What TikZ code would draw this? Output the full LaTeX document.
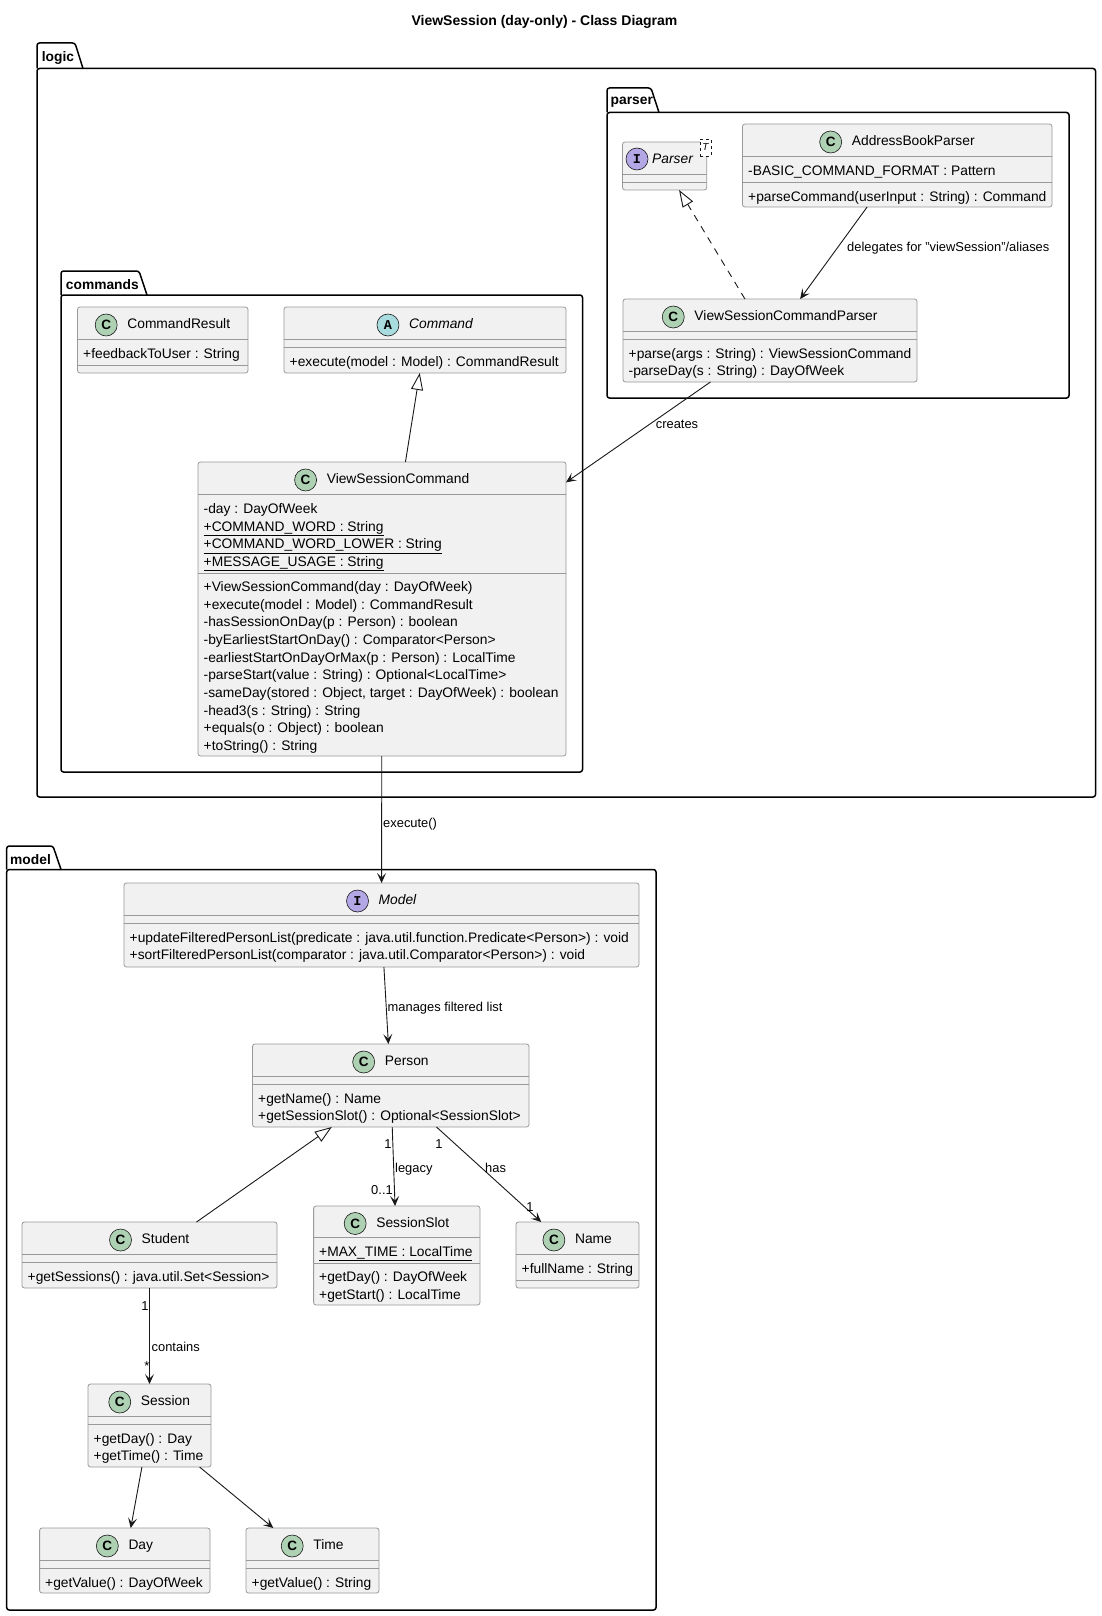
\documentclass[tikz,border=0pt]{standalone}
\usepackage{fontspec}
\setmainfont{Liberation Sans}
\newfontfamily\monofam{Liberation Mono}
\usetikzlibrary{arrows.meta}
\definecolor{boxfill}{HTML}{F1F1F1}
\definecolor{boxline}{HTML}{181818}
\definecolor{boxedge}{HTML}{999999}
\definecolor{cgreen}{HTML}{ADD1B2}
\definecolor{ablue}{HTML}{A9DCDF}
\definecolor{ipurple}{HTML}{B4A7E5}
\tikzset{
  pkg/.style={draw=black, line width=1.5pt},
  pkglabel/.style={anchor=west, inner sep=0pt, yshift=-1.5pt, font=\bfseries\fontsize{13.8}{16}\selectfont},
  classbox/.style={draw=boxedge, fill=boxfill, line width=0.8pt, rounded corners=2.5pt, inner sep=0pt, outer sep=0pt},
  sepline/.style={draw=boxedge, line width=0.8pt},
  titletext/.style={inner sep=0pt, anchor=center, yshift=-2pt, font=\fontsize{13.8}{16}\selectfont, text height=10pt, text depth=3pt},
  icon/.style={circle, draw=boxline, line width=0.6pt, minimum size=22pt, inner sep=0pt, font=\bfseries\fontsize{13.5}{13.5}\selectfont},
  mem/.style={anchor=west, inner sep=0pt, yshift=-2pt, font=\fontsize{13.8}{16}\selectfont, text height=10pt, text depth=3pt},
  lab/.style={inner sep=0pt, yshift=-1.5pt, font=\fontsize{12.9}{15}\selectfont, text height=9.5pt, text depth=3pt},
  assoc/.style={draw=boxline, line width=0.9pt, -{Stealth[length=10pt,width=9pt,inset=4.5pt]}},
  extends/.style={draw=boxline, line width=0.9pt, -{Triangle[open, length=17pt, width=12pt, fill=white]}},
  realizes/.style={extends, dash pattern=on 7pt off 6pt},
}
\newcommand\ubox[5]{\node[classbox, minimum width={#4-#2}, minimum height={#5-#3}] (#1) at ({(#2+#4)/2},{(#3+#5)/2}) {};}
\newcommand\usep[3]{\draw[sepline] (#2,#1) -- (#3,#1);}
\newcommand\uhead[6]{%
  \node[titletext] (#1-t) at ({#2+16},#3) {#6};
  \node[icon, fill=#4] (#1-i) at ([xshift=-21pt]#1-t.west) {#5};}
\begin{document}
\begin{tikzpicture}[x=1pt, y=-1pt]
\useasboundingbox[fill=white] (0,0) rectangle (1101,1616);
% title
\node[inner sep=0pt, font=\bfseries\fontsize{14}{16}\selectfont] (title) at (544.5,21.7) {ViewSession (day-only) - Class Diagram};

% ---------- packages ----------
\draw[pkg, rounded corners=2.5pt] (37,68.5) -- (37,43) -- (75,43) -- (83,68.5);
\draw[pkg, rounded corners=2.5pt] (37,68.5) rectangle (1095.5,797);
\node[pkglabel] (logic-l) at (41.7,56) {logic};

\draw[pkg, rounded corners=2.5pt] (607,112.5) -- (607,88) -- (651,88) -- (659,112.5);
\draw[pkg, rounded corners=2.5pt] (607,112.5) rectangle (1069,398);
\node[pkglabel] (parser-l) at (610.5,100.5) {parser};

\draw[pkg, rounded corners=2.5pt] (61,295) -- (61,271) -- (139,271) -- (147,295);
\draw[pkg, rounded corners=2.5pt] (61,295) rectangle (582.5,772);
\node[pkglabel] (commands-l) at (65.7,283) {commands};

\draw[pkg, rounded corners=2.5pt] (6.7,869.5) -- (6.7,846) -- (53,846) -- (61,869.5);
\draw[pkg, rounded corners=2.5pt] (6.7,869.5) rectangle (656,1610);
\node[pkglabel] (model-l) at (10,858) {model};

% ---------- parser package ----------
\ubox{parseri}{622.5}{142}{706.7}{190}
\usep{174}{622.5}{706.7}\usep{182}{622.5}{706.7}
\node[icon, fill=ipurple] (parseri-i) at (637,159) {\monofam\bfseries I};
\node[mem, font=\itshape\fontsize{13.8}{16}\selectfont] (parseri-t) at (652,158) {Parser};
\node[draw=boxline, dashed, line width=0.5pt, fill=white, minimum width=11pt, minimum height=17pt, inner sep=0pt, font=\itshape\fontsize{10}{10}\selectfont] (tpl) at (705.5,147.5) {T};

\ubox{abp}{742.5}{124}{1052}{207}
\usep{156}{742.5}{1052}\usep{182}{742.5}{1052}
\uhead{abp}{897.25}{140}{cgreen}{C}{AddressBookParser}
\node[mem] (abp-a1) at (748,170) {-BASIC\_COMMAND\_FORMAT : Pattern};
\node[mem] (abp-m1) at (748,196) {+parseCommand(userInput : String) : Command};

\ubox{vscp}{623}{299}{917}{382}
\usep{331}{623}{917}\usep{339}{623}{917}
\uhead{vscp}{770}{315}{cgreen}{C}{ViewSessionCommandParser}
\node[mem] (vscp-m1) at (628.5,353) {+parse(args : String) : ViewSessionCommand};
\node[mem] (vscp-m2) at (628.5,370) {-parseDay(s : String) : DayOfWeek};

% ---------- commands package ----------
\ubox{cres}{77.5}{307}{248}{373}
\usep{339}{77.5}{248}\usep{365}{77.5}{248}
\uhead{cres}{162.75}{323}{cgreen}{C}{CommandResult}
\node[mem] (cres-a1) at (83,353) {+feedbackToUser : String};

\ubox{cmd}{284}{307}{566}{373}
\usep{339}{284}{566}\usep{347}{284}{566}
\uhead{cmd}{425}{323}{ablue}{\monofam\bfseries A}{\itshape Command}
\node[mem] (cmd-m1) at (289.5,361) {+execute(model : Model) : CommandResult};

\ubox{vsc}{198}{462}{566}{756}
\usep{494}{198}{566}\usep{573}{198}{566}
\uhead{vsc}{382}{478}{cgreen}{C}{ViewSessionCommand}
\node[mem] (vsc-a1) at (203.5,508) {-day : DayOfWeek};
\node[mem] (vsc-a2) at (203.5,525.5) {\underline{+COMMAND\_WORD : String}};
\node[mem] (vsc-a3) at (203.5,543) {\underline{+COMMAND\_WORD\_LOWER : String}};
\node[mem] (vsc-a4) at (203.5,560.5) {\underline{+MESSAGE\_USAGE : String}};
\node[mem] (vsc-m1) at (203.5,586) {+ViewSessionCommand(day : DayOfWeek)};
\node[mem] (vsc-m2) at (203.5,603.7) {+execute(model : Model) : CommandResult};
\node[mem] (vsc-m3) at (203.5,621.3) {-hasSessionOnDay(p : Person) : boolean};
\node[mem] (vsc-m4) at (203.5,639) {-byEarliestStartOnDay() : Comparator<Person>};
\node[mem] (vsc-m5) at (203.5,656.7) {-earliestStartOnDayOrMax(p : Person) : LocalTime};
\node[mem] (vsc-m6) at (203.5,674.3) {-parseStart(value : String) : Optional<LocalTime>};
\node[mem] (vsc-m7) at (203.5,692) {-sameDay(stored : Object, target : DayOfWeek) : boolean};
\node[mem] (vsc-m8) at (203.5,709.7) {-head3(s : String) : String};
\node[mem] (vsc-m9) at (203.5,727.3) {+equals(o : Object) : boolean};
\node[mem] (vsc-m10) at (203.5,745) {+toString() : String};

% ---------- model package ----------
\ubox{model}{124}{883}{639}{967}
\usep{915}{124}{639}\usep{923}{124}{639}
\uhead{model}{381.5}{899}{ipurple}{\monofam\bfseries I}{\itshape Model}
\node[mem] (model-m1) at (129.5,937) {+updateFilteredPersonList(predicate : java.util.function.Predicate<Person>) : void};
\node[mem] (model-m2) at (129.5,954) {+sortFilteredPersonList(comparator : java.util.Comparator<Person>) : void};

\ubox{person}{252.5}{1044}{529}{1127}
\usep{1076}{252.5}{529}\usep{1084}{252.5}{529}
\uhead{person}{390.75}{1060}{cgreen}{C}{Person}
\node[mem] (person-m1) at (258,1098) {+getName() : Name};
\node[mem] (person-m2) at (258,1115) {+getSessionSlot() : Optional<SessionSlot>};

\ubox{student}{22}{1222}{277}{1288}
\usep{1254}{22}{277}\usep{1262}{22}{277}
\uhead{student}{149.5}{1238}{cgreen}{C}{Student}
\node[mem] (student-m1) at (27.5,1276) {+getSessions() : java.util.Set<Session>};

\ubox{sslot}{313.6}{1206}{480}{1305}
\usep{1237}{313.6}{480}\usep{1263}{313.6}{480}
\uhead{sslot}{396.8}{1221.5}{cgreen}{C}{SessionSlot}
\node[mem] (sslot-a1) at (319,1251) {\underline{+MAX\_TIME : LocalTime}};
\node[mem] (sslot-m1) at (319,1276) {+getDay() : DayOfWeek};
\node[mem] (sslot-m2) at (319,1294) {+getStart() : LocalTime};

\ubox{name}{516}{1222}{639}{1288}
\usep{1254}{516}{639}\usep{1280}{516}{639}
\uhead{name}{577.5}{1238}{cgreen}{C}{Name}
\node[mem] (name-a1) at (521.5,1268) {+fullName : String};

\ubox{session}{88}{1384}{211}{1467}
\usep{1416}{88}{211}\usep{1424}{88}{211}
\uhead{session}{149.5}{1400}{cgreen}{C}{Session}
\node[mem] (session-m1) at (93.5,1438) {+getDay() : Day};
\node[mem] (session-m2) at (93.5,1455) {+getTime() : Time};

\ubox{day}{39.6}{1528}{210}{1593}
\usep{1560}{39.6}{210}\usep{1568}{39.6}{210}
\uhead{day}{124.8}{1544}{cgreen}{C}{Day}
\node[mem] (day-m1) at (45,1582) {+getValue() : DayOfWeek};

\ubox{time}{246}{1528}{379}{1593}
\usep{1560}{246}{379}\usep{1568}{246}{379}
\uhead{time}{312.5}{1544}{cgreen}{C}{Time}
\node[mem] (time-m1) at (251.5,1582) {+getValue() : String};

% ---------- connectors ----------
\draw[realizes] (vscp) -- (parseri);
\draw[assoc] (abp) -- (vscp);
\draw[extends] (vsc) -- (cmd);
\draw[assoc] (vscp) -- (vsc);
\draw[assoc] (vsc) -- (model);
\draw[assoc] (model) -- (person);
\draw[extends] (student) -- (person);
\draw[assoc] (person) -- (sslot);
\draw[assoc] (person) -- (name);
\draw[assoc] (student) -- (session);
\draw[assoc] (session) -- (day);
\draw[assoc] (session) -- (time);

% ---------- labels ----------
\node[lab, anchor=west] (l-deleg) at (847,247) {delegates for "viewSession"/aliases};
\node[lab] (l-creates) at (677,424) {creates};
\node[lab, anchor=west] (l-exec) at (383,823) {execute()};
\node[lab, anchor=west] (l-manages) at (387.5,1007) {manages filtered list};
\node[lab, anchor=west] (l-legacy) at (395,1168) {legacy};
\node[lab] (l-leg1) at (388,1144) {1};
\node[lab] (l-leg01) at (382,1190) {0..1};
\node[lab, anchor=west] (l-has) at (485,1168) {has};
\node[lab] (l-has1) at (439,1144) {1};
\node[lab] (l-has2) at (530,1207) {1};
\node[lab] (l-con1) at (145,1306) {1};
\node[lab, anchor=west] (l-contains) at (151.5,1347) {contains};
\node[lab] (l-constar) at (147,1366) {*};
\end{tikzpicture}
\end{document}
